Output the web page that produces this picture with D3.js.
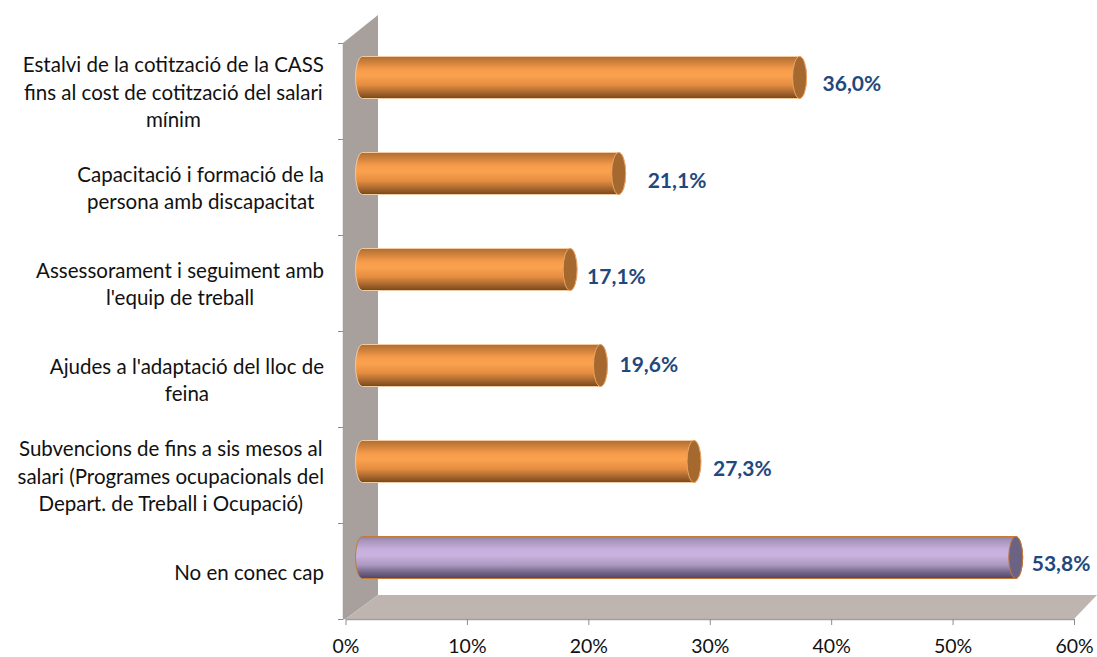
<!DOCTYPE html>
<html><head><meta charset="utf-8">
<script src="https://cdn.jsdelivr.net/npm/d3@7"></script>
<style>html,body{margin:0;padding:0;background:#fff}svg{display:block}text{font-family:Lato,"Open Sans",sans-serif}</style>
</head><body><svg id="c" width="1097" height="657"></svg>
<script>
const categories = [
  ["Estalvi de la cotització de la CASS","fins al cost de cotització del salari","mínim"],
  ["Capacitació i formació de la","persona amb discapacitat"],
  ["Assessorament i seguiment amb","l'equip de treball"],
  ["Ajudes a l'adaptació del lloc de","feina"],
  ["Subvencions de fins a sis mesos al","salari (Programes ocupacionals del","Depart. de Treball i Ocupació)"],
  ["No en conec cap"]
];
const values = [36.0, 21.1, 17.1, 19.6, 27.3, 53.8];
const valueLabels = ["36,0%","21,1%","17,1%","19,6%","27,3%","53,8%"];
const xTicks = [0,10,20,30,40,50,60];
const highlighted = [false,false,false,false,false,true];
// manual label placement in the original chart (px from bar end / from bar centre)
const labelDx = [16,22,10,12,12,9];
const labelDy = [13,14,14,6,14,13];

const svg = d3.select("#c");
const x = d3.scaleLinear().domain([0,60]).range([345.5,1074]);
const y = d3.scaleBand().domain(d3.range(categories.length)).range([43,619]);
const depthX = 33, depthY = -24, barDx = 17, barDy = -13.5, barH = 42, capRx = 7;

// gradients and soft edge
const defs = svg.append("defs");
function grad(id, stops){
  const g = defs.append("linearGradient").attr("id",id).attr("x1",0).attr("x2",0).attr("y1",0).attr("y2",1);
  stops.forEach(s=>g.append("stop").attr("offset",s[0]).attr("stop-color",s[1]));
}
grad("orange",[[0,"#b06d30"],[.1,"#c57c38"],[.3,"#f59a4a"],[.45,"#fba24f"],[.68,"#e48c40"],[.85,"#a9682f"],[1,"#74481f"]]);
grad("purple",[[0,"#8f7fa5"],[.1,"#a795bb"],[.3,"#c5afdc"],[.45,"#cab3e0"],[.68,"#ab98c0"],[.85,"#75678a"],[1,"#4e4560"]]);
defs.append("filter").attr("id","soft").append("feGaussianBlur").attr("stdDeviation",0.55);

// walls
const x0 = x(0), yT = 43, yB = 619, xR = x(60);
svg.append("path").attr("d",`M${x0-2.5},${yT}L${x0-2.5+35},${yT-28}L${x0-2.5+35},${yB+depthY}L${x0},${yB}L${x0-2.5},${yB}Z`).attr("fill","#a7a09c");
svg.append("path").attr("d",`M${x0},${yB}L${x0+depthX-.5},${yB+depthY}L${xR+23},${yB+depthY}L${xR},${yB}Z`).attr("fill","#bfb5b0");

// axes
const ax = svg.append("g").attr("transform",`translate(0,${yB})`)
  .call(d3.axisBottom(x).tickValues(xTicks).tickFormat(d=>d+"%").tickSize(6).tickSizeOuter(0));
ax.select(".domain").attr("stroke","#a0a0a0").attr("stroke-width",1.5);
ax.selectAll(".tick line").attr("stroke","#8c8c8c");
ax.selectAll(".tick text").attr("fill","#111").attr("font-size",19.5).attr("font-family","Lato").attr("y",34).attr("dy",0).attr("x",0);
const ay = svg.append("g").attr("transform",`translate(${x0-2.5},0)`)
  .call(d3.axisLeft(d3.scaleLinear().domain([0,6]).range([yT,yB])).ticks(6).tickFormat("").tickSize(5).tickSizeOuter(0));
ay.select(".domain").attr("stroke","#a0a0a0").attr("stroke-width",1.5);
ay.selectAll(".tick line").attr("stroke","#8c8c8c");

// bars
const bars = svg.append("g").selectAll("g").data(values).join("g");
bars.each(function(v,i){
  const g = d3.select(this);
  const m = g.append("g").attr("filter","url(#soft)");
  const x1 = x(0)+barDx, x2 = x(v)+barDx;
  const cy = y(i)+y.bandwidth()/2+barDy, h = barH/2;
  const stroke = highlighted[i] ? "#c47a3c" : "#f3c9a2";
  m.append("path")
    .attr("d",`M${x1},${cy-h}L${x2},${cy-h}A${capRx},${h} 0 0 1 ${x2},${cy+h}L${x1},${cy+h}A${capRx},${h} 0 0 1 ${x1},${cy-h}Z`)
    .attr("fill",highlighted[i]?"url(#purple)":"url(#orange)").attr("stroke",stroke).attr("stroke-width",1);
  m.append("ellipse").attr("cx",x2).attr("cy",cy).attr("rx",capRx).attr("ry",h)
    .attr("fill",highlighted[i]?"#6c6484":"#a5682f").attr("stroke",highlighted[i]?"#c47a3c":"#eaa467").attr("stroke-width",1);
  g.append("text").attr("x",x2+capRx+labelDx[i]).attr("y",cy+labelDy[i])
    .attr("fill","#1f497d").attr("font-weight",700).attr("font-size",21).text(valueLabels[i]);
});

// category labels: centred on their longest line, block right-aligned
const lineH = 27.5;
categories.forEach((lines,i)=>{
  const cy = y(i)+y.bandwidth()/2;
  const g = svg.append("g");
  const ts = lines.map((l,k)=>g.append("text").attr("font-size",20.5).attr("fill","#111").attr("text-anchor","middle")
     .attr("y",cy+(k-(lines.length-1)/2)*lineH+8.5).text(l));
  const w = d3.max(ts,t=>t.node().getComputedTextLength());
  ts.forEach(t=>t.attr("x",324-w/2));
});
</script></body></html>
